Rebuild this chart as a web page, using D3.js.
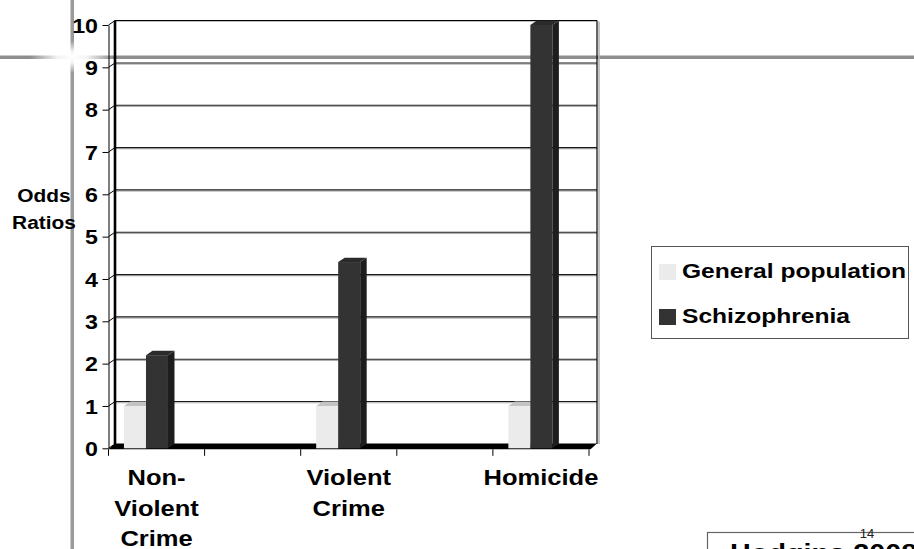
<!DOCTYPE html>
<html>
<head>
<meta charset="utf-8">
<script src="https://cdn.jsdelivr.net/npm/d3@7"></script>
<style>
  html, body { margin: 0; padding: 0; background: #ffffff; }
  svg { display: block; }
  text { font-family: "Liberation Sans", Arial, sans-serif; }
</style>
</head>
<body>
<svg id="chart" width="914" height="549"></svg>
<script>
// Odds ratios for offending, general population vs. schizophrenia
const categories = ["Non-Violent Crime", "", "Violent Crime", "", "Homicide"];
const series = ["General population", "Schizophrenia"];
const generalPopulation = [1, null, 1, null, 1];
const schizophrenia = [2.2, null, 4.4, null, 10];
const yTicks = [0, 1, 2, 3, 4, 5, 6, 7, 8, 9, 10];
const yTitle = ["Odds", "Ratios"];
const pageNumber = "14";
const citation = "Hodgins 2008";

const svg = d3.select("#chart");
const W = 914, H = 549;

// 3D depth offset of the plot box
const DX = 6.5, DY = -4.4;
const SX = 1.16; // horizontal stretch of the lettering

const y = d3.scaleLinear().domain([0, 10]).range([448.3, 25]);
const x = d3.scaleBand().domain(d3.range(categories.length)).range([108.5, 589]).padding(0);
const step = x.step();
const inner = d3.scaleBand().domain(series).range([0.161 * step, 0.619 * step]).padding(0);

const colors = {
  "General population": { front: "#ebebeb", top: "#c3c3c3", side: "#b5b5b5" },
  "Schizophrenia": { front: "#333333", top: "#2b2b2b", side: "#1d1d1d" }
};

// ---- slide decoration: gray rules with a glow where they cross ----
const defs = svg.append("defs");
const glow = defs.append("radialGradient").attr("id", "glow");
glow.append("stop").attr("offset", "0%").attr("stop-color", "#fff").attr("stop-opacity", 1);
glow.append("stop").attr("offset", "35%").attr("stop-color", "#fff").attr("stop-opacity", 0.9);
glow.append("stop").attr("offset", "100%").attr("stop-color", "#fff").attr("stop-opacity", 0);

const deco = svg.append("g");
deco.append("rect").attr("x", 0).attr("y", 55.5).attr("width", W).attr("height", 3.5).attr("fill", "#8e8e8e");
deco.append("rect").attr("x", 70.5).attr("y", 0).attr("width", 3.5).attr("height", H).attr("fill", "#9a9a9a");
deco.append("ellipse").attr("cx", 72).attr("cy", 57).attr("rx", 42).attr("ry", 16).attr("fill", "url(#glow)");

// ---- plot box ----
const plot = svg.append("g");
const x0 = x.range()[0], x1 = x.range()[1];
const wallL = x0 + DX, wallR = x1 + DX + 1.5;

// gridlines on the back wall (with soft shadow)
const gv = yTicks.filter(v => v > 0 && v < 10);
plot.selectAll("line.gshadow").data(gv).join("line")
  .attr("x1", wallL).attr("x2", wallR)
  .attr("y1", d => y(d) + DY + 1.2).attr("y2", d => y(d) + DY + 1.2)
  .attr("stroke", "#aaaaaa").attr("stroke-width", 1);
plot.selectAll("line.grid").data(gv).join("line")
  .attr("x1", wallL).attr("x2", wallR)
  .attr("y1", d => y(d) + DY).attr("y2", d => y(d) + DY)
  .attr("stroke", "#1a1a1a").attr("stroke-width", 1.1);

// wall top and right edges
plot.append("line").attr("x1", wallL).attr("x2", wallR)
  .attr("y1", y(10) + DY).attr("y2", y(10) + DY).attr("stroke", "#000").attr("stroke-width", 1.2);
plot.append("line").attr("x1", wallR + 2).attr("x2", wallR + 2)
  .attr("y1", y(10) + DY + 1).attr("y2", y(0) + DY).attr("stroke", "#b0b0b0").attr("stroke-width", 1.5);
plot.append("line").attr("x1", wallR).attr("x2", wallR)
  .attr("y1", y(10) + DY).attr("y2", y(0) + DY).attr("stroke", "#000").attr("stroke-width", 1.2);

// left wall edge
plot.append("line").attr("x1", wallL).attr("x2", wallL)
  .attr("y1", y(10) + DY).attr("y2", y(0) + DY).attr("stroke", "#000").attr("stroke-width", 2.6);

// connectors from the front axis to the wall
plot.selectAll("line.conn").data(yTicks).join("line")
  .attr("x1", x0).attr("y1", d => y(d))
  .attr("x2", wallL).attr("y2", d => y(d) + DY)
  .attr("stroke", "#000").attr("stroke-width", 1);

// floor
plot.append("path")
  .attr("d", `M${x0},${y(0) + 1} L${x1 + 1.5},${y(0) + 1} L${wallR},${y(0) + DY - 0.5} L${wallL},${y(0) + DY - 0.5} Z`)
  .attr("fill", "#000");

// front value axis
const yAxis = d3.axisLeft(y).tickValues(yTicks).tickSize(6).tickSizeOuter(0).tickPadding(10);
const yg = plot.append("g").attr("transform", `translate(${x0},0)`).call(yAxis);
yg.select(".domain").attr("stroke", "#000").attr("stroke-width", 1);
yg.selectAll(".tick line").attr("stroke", "#000");
yg.selectAll(".tick text")
  .attr("fill", "#000").attr("font-size", 20).attr("font-weight", "bold")
  .attr("font-family", "Liberation Sans, Arial, sans-serif")
  .attr("x", -10.5 / SX).attr("dy", "0.36em")
  .attr("transform", `scale(${SX},1)`);

// category boundary ticks
plot.selectAll("line.ctick").data(d3.range(categories.length + 1)).join("line")
  .attr("x1", i => x0 + i * step).attr("x2", i => x0 + i * step)
  .attr("y1", y(0) + 1).attr("y2", y(0) + 7.5)
  .attr("stroke", "#000").attr("stroke-width", 1);

// bars (light series drawn first, dark one in front)
const barData = [];
categories.forEach((c, i) => {
  [generalPopulation, schizophrenia].forEach((arr, s) => {
    if (arr[i] != null) barData.push({ i, s: series[s], v: arr[i] });
  });
});
const bars = plot.selectAll("g.bar").data(barData).join("g").attr("class", "bar");
bars.each(function (d) {
  const g = d3.select(this);
  const bx = x(d.i) + inner(d.s), bw = inner.bandwidth();
  const top = y(d.v), bot = y(0);
  const c = colors[d.s];
  g.append("path")
    .attr("d", `M${bx + bw},${top} L${bx + bw + DX},${top + DY} L${bx + bw + DX},${bot + DY} L${bx + bw},${bot} Z`)
    .attr("fill", c.side);
  g.append("path")
    .attr("d", `M${bx},${top} L${bx + DX},${top + DY} L${bx + bw + DX},${top + DY} L${bx + bw},${top} Z`)
    .attr("fill", c.top);
  g.append("rect").attr("x", bx).attr("y", top).attr("width", bw).attr("height", bot - top).attr("fill", c.front);
});

// category labels, wrapped at spaces and hyphens
const wrap = s => s.split(/\s+/).flatMap(w => w.split(/(?<=-)/)).filter(t => t.length);
const catLabels = plot.selectAll("g.cat").data(categories.map((c, i) => ({ c, i })).filter(d => d.c))
  .join("g").attr("class", "cat")
  .attr("transform", d => `translate(${x(d.i) + step / 2},485) scale(${SX},1)`);
catLabels.each(function (d) {
  d3.select(this).selectAll("text").data(wrap(d.c)).join("text")
    .attr("y", (t, k) => k * 30.7)
    .attr("text-anchor", "middle").attr("font-size", 22).attr("font-weight", "bold").attr("fill", "#000")
    .text(t => t);
});

// value axis title
svg.append("g").attr("transform", `translate(44,202) scale(${SX},1)`)
  .selectAll("text").data(yTitle).join("text")
  .attr("y", (t, k) => k * 27)
  .attr("text-anchor", "middle").attr("font-size", 18).attr("font-weight", "bold").attr("fill", "#000")
  .text(t => t);

// legend
const lg = svg.append("g");
lg.append("rect").attr("x", 651.5).attr("y", 246.5).attr("width", 257).attr("height", 92)
  .attr("fill", "#fff").attr("stroke", "#555").attr("stroke-width", 1);
const li = lg.selectAll("g.item").data(series).join("g").attr("class", "item")
  .attr("transform", (d, k) => `translate(0,${k * 45})`);
li.append("rect").attr("x", 659).attr("y", 264).attr("width", 17).attr("height", 16)
  .attr("fill", d => colors[d].front);
li.append("text").attr("transform", `translate(682,277.5) scale(1.23,1)`)
  .attr("font-size", 20).attr("font-weight", "bold").attr("fill", "#000").text(d => d);

// page number and citation box
svg.append("rect").attr("x", 707.5).attr("y", 532.5).attr("width", 230).attr("height", 40)
  .attr("fill", "none").attr("stroke", "#666").attr("stroke-width", 1.2);
svg.append("text").attr("x", 867).attr("y", 538).attr("text-anchor", "middle")
  .attr("font-size", 13).attr("fill", "#222").text(pageNumber);
svg.append("text").attr("transform", `translate(730,561) scale(1.2,1)`)
  .attr("font-size", 24).attr("font-weight", "bold").attr("fill", "#000").text(citation);
</script>
</body>
</html>
